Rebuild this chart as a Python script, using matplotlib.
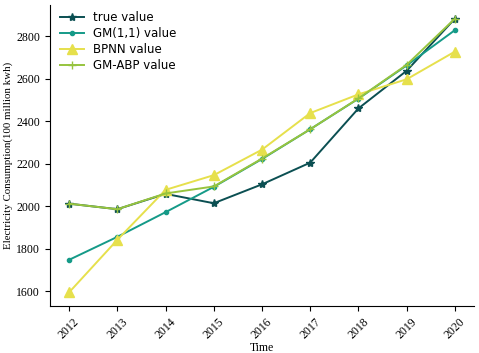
import matplotlib
matplotlib.use('Agg')
import matplotlib.pyplot as plt

# years on the x axis
years = [2012, 2013, 2014, 2015, 2016, 2017, 2018, 2019, 2020]

# values (100 million kwh)
true_value = [2012, 1986, 2058, 2014, 2103, 2205, 2460, 2637, 2882]
gm11_value = [1748, 1856, 1972, 2091, 2222, 2362, 2506, 2662, 2828]
bpnn_value = [1595, 1842, 2077, 2146, 2266, 2438, 2526, 2597, 2727]
gmabp_value = [2012, 1986, 2060, 2093, 2224, 2362, 2507, 2665, 2882]

fig = plt.figure(figsize=(4.79, 3.53), dpi=100)
ax = fig.add_axes([0.104, 0.133, 0.886, 0.853])

ax.plot(years, true_value, color='#0b4f52', marker='*', markersize=6, linewidth=1.4, label='true value')
ax.plot(years, gm11_value, color='#159a88', marker='.', markersize=6, linewidth=1.4, label='GM(1,1) value')
ax.plot(years, bpnn_value, color='#e6e04c', marker='^', markersize=7, linewidth=1.4, label='BPNN value')
ax.plot(years, gmabp_value, color='#97c43e', marker='+', markersize=6, linewidth=1.4, label='GM-ABP value')

ax.spines['top'].set_visible(False)
ax.spines['right'].set_visible(False)

ax.set_xticks(years)
ax.set_xticklabels([str(y) for y in years], rotation=45, family='Liberation Serif', fontsize=8.5)
ax.set_yticks([1600, 1800, 2000, 2200, 2400, 2600, 2800])
for lbl in ax.get_yticklabels():
    lbl.set_family('Liberation Serif')
    lbl.set_fontsize(8.5)

ax.set_xlabel('Time', family='Liberation Serif', fontsize=8.5, labelpad=1)
ax.set_ylabel('Electricity Consumption(100 million kwh)', family='Liberation Serif', fontsize=7.8, labelpad=2)

ax.legend(loc='upper left', frameon=False, fontsize=8.5, handlelength=2.0, labelspacing=0.25,
          bbox_to_anchor=(0.0, 1.015))

fig.savefig('out.png', dpi=100)
